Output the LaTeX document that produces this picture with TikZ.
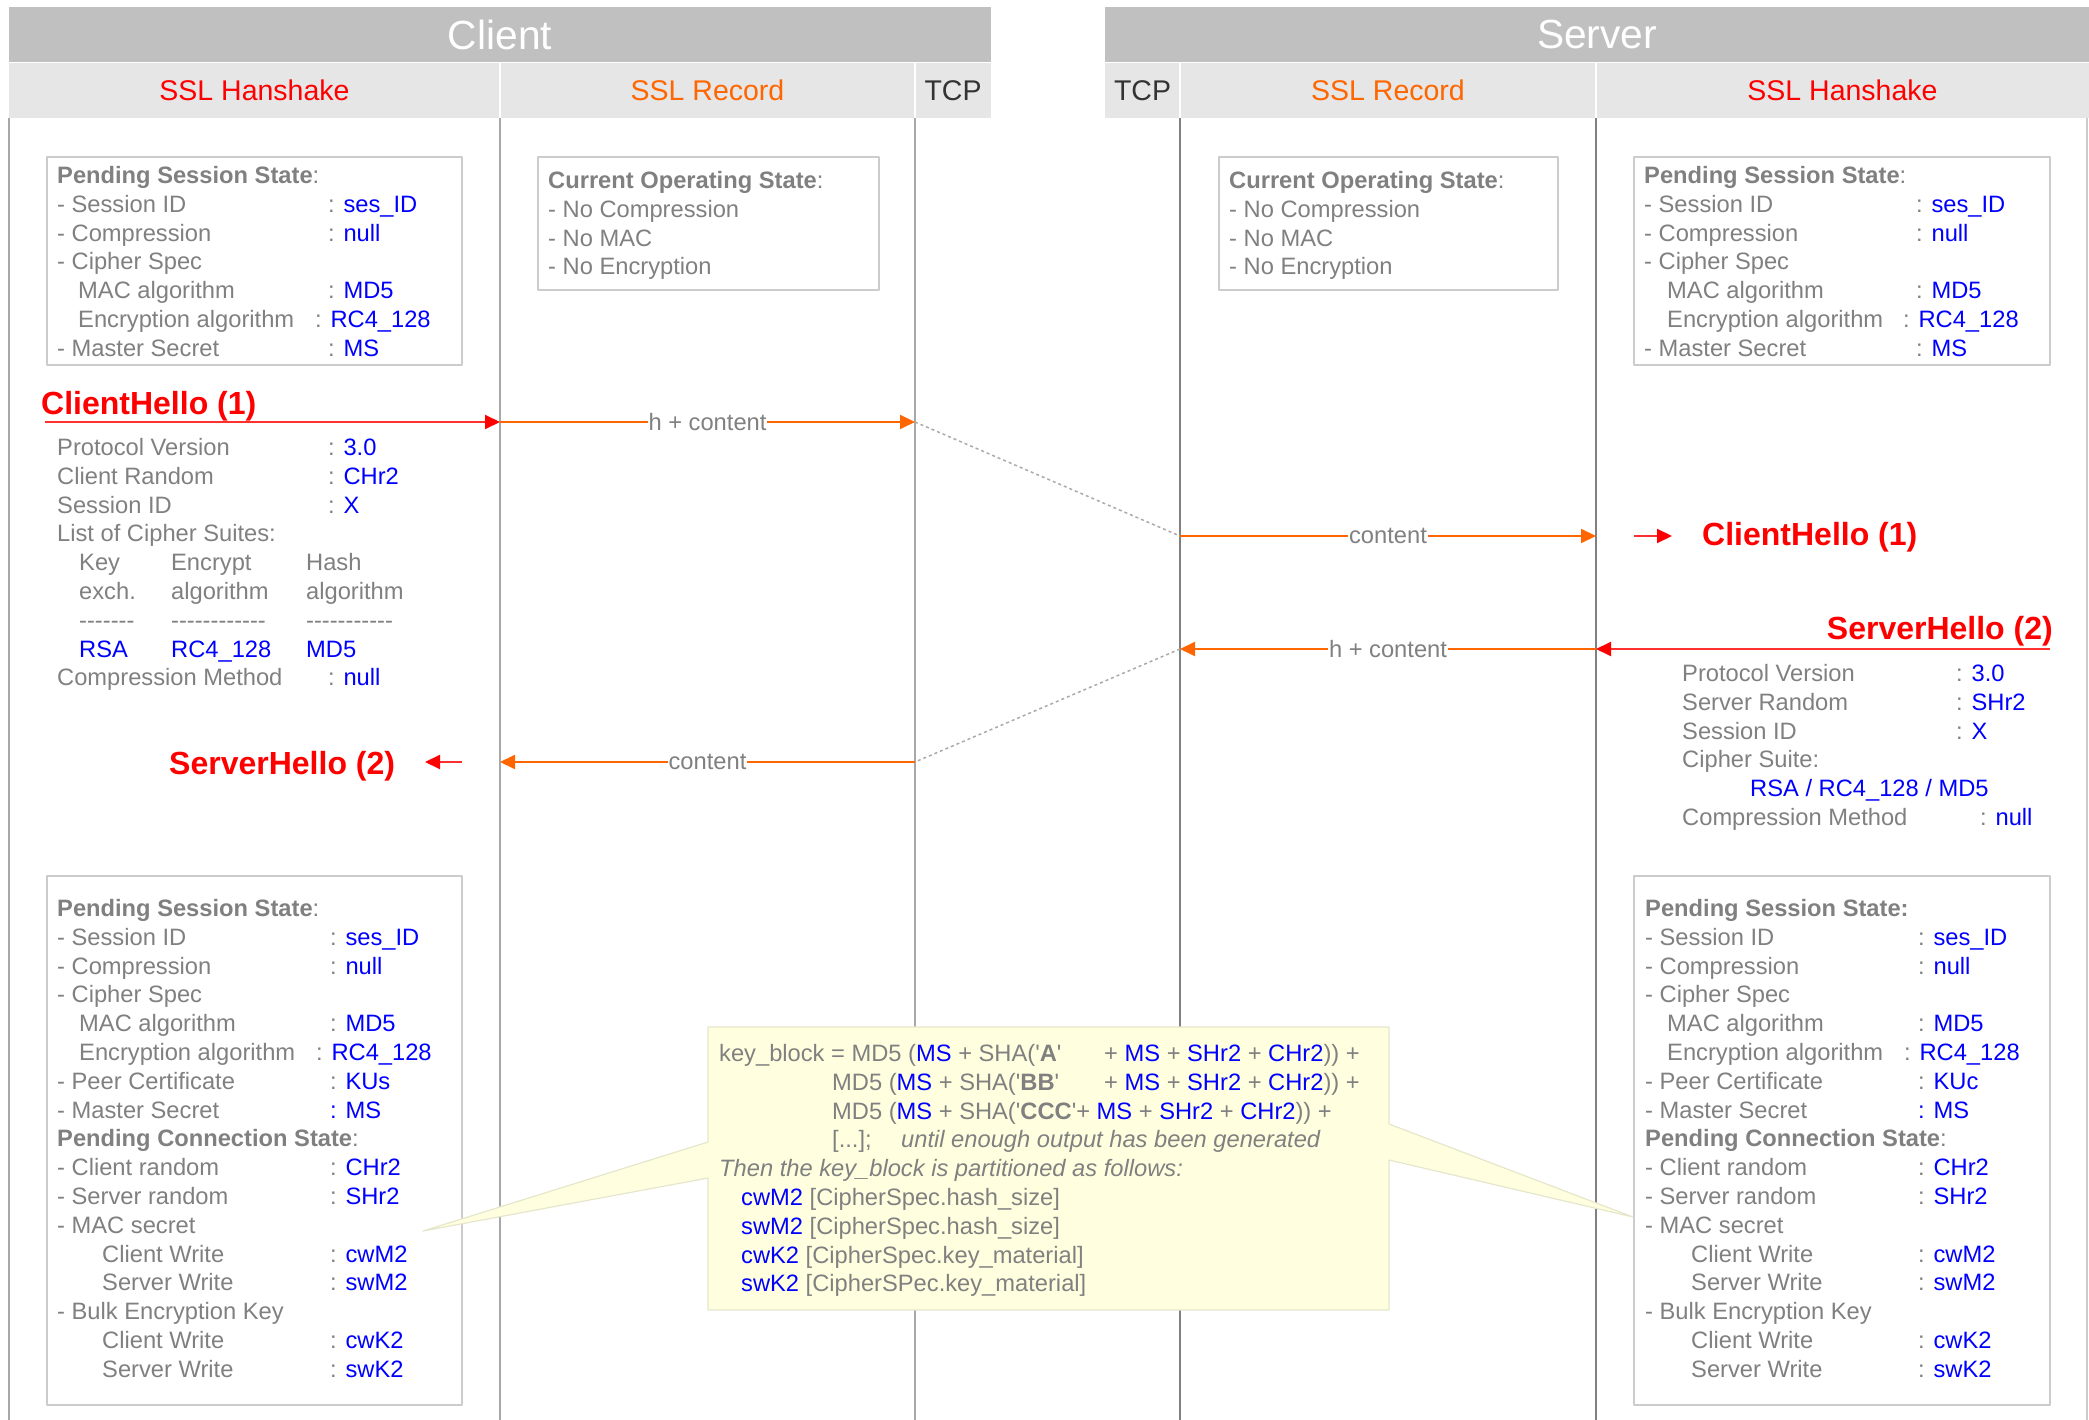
\documentclass[tikz,border=0pt]{standalone}
\usepackage{fontspec}
\setmainfont{Liberation Sans}
\usetikzlibrary{arrows.meta}

\definecolor{txtgray}{HTML}{808080}
\definecolor{valblue}{HTML}{0000FF}
\definecolor{hsred}{HTML}{FF0000}
\definecolor{hsline}{HTML}{FF3030}
\definecolor{recorange}{HTML}{FF6600}
\definecolor{hdrgray}{HTML}{C0C0C0}
\definecolor{subgray}{HTML}{E6E6E6}
\definecolor{tcpgray}{HTML}{333333}
\definecolor{lanecli}{HTML}{A8A8A8}
\definecolor{lanesrv}{HTML}{808080}
\definecolor{boxline}{HTML}{CCCCCC}
\definecolor{linkgray}{HTML}{AAAAAA}
\definecolor{notefill}{HTML}{FFFFE0}
\definecolor{noteline}{HTML}{E6E6CC}

\newcommand{\bval}[1]{\textcolor{valblue}{#1}}
\newcommand{\klab}[2]{\makebox[#1][l]{#2}}
\newcommand{\sq}{\textquotesingle}

\begin{document}
\begin{tikzpicture}[x=1pt, y=-1pt, line join=round,
    body/.style={font=\fontsize{23.7}{28.8}\selectfont, text=txtgray, align=left, inner sep=0pt, anchor=base west},
    title/.style={font=\fontsize{32}{38}\selectfont\bfseries, text=hsred, inner sep=0pt},
    head/.style={font=\fontsize{40.7}{48}\selectfont, text=white, inner sep=0pt},
    subhead/.style={font=\fontsize{28.5}{34}\selectfont, inner sep=0pt},
    statebox/.style={draw=boxline, line width=1.6pt, fill=white},
    hsarrow/.style={hsline, line width=2pt, -{Triangle[length=15pt,width=14pt,color=hsred]}},
    recarrow/.style={recorange, line width=2pt, -{Triangle[length=15pt,width=14pt]}},
    tcplink/.style={linkgray, line width=1.5pt, dash pattern=on 3pt off 3pt},
    flowlbl/.style={font=\fontsize{23.7}{28.8}\selectfont, text=txtgray, fill=white, inner xsep=1pt, inner ysep=0pt}]

    \useasboundingbox (0,0) rectangle (2089,1420);

    % Headers
    \fill[hdrgray] (9,7) rectangle (991,62);
    \fill[hdrgray] (1105,7) rectangle (2089,62);
    \fill[subgray] (9,63) rectangle (991,118);
    \fill[subgray] (1105,63) rectangle (2089,118);
    \foreach \x in {500,915,1180,1596} {
        \draw[white, line width=2pt] (\x,63) -- (\x,118);
    }
    \node[head] (client) at (500,34.5) {Client};
    \node[head] (server) at (1597,34.5) {Server};
    \node[subhead, text=hsred] (cliHs) at (254.5,90.5) {SSL Hanshake};
    \node[subhead, text=recorange] (cliRec) at (707.5,90.5) {SSL Record};
    \node[subhead, text=tcpgray] (cliTcp) at (953,90.5) {TCP};
    \node[subhead, text=tcpgray] (srvTcp) at (1142.5,90.5) {TCP};
    \node[subhead, text=recorange] (srvRec) at (1388,90.5) {SSL Record};
    \node[subhead, text=hsred] (srvHs) at (1842.5,90.5) {SSL Hanshake};

    % Lanes
    \foreach \x in {9,500,915} {
        \draw[lanecli, line width=1.4pt] (\x,118) -- (\x,1420);
    }
    \foreach \x in {1180,1596} {
        \draw[lanesrv, line width=1.4pt] (\x,118) -- (\x,1420);
    }
    \draw[boxline, line width=1.4pt] (2087,118) -- (2087,1420);

    % State boxes
    \draw[statebox] (47,157) rectangle (462,365);
    \draw[statebox] (538,157) rectangle (879,290);
    \draw[statebox] (1219,157) rectangle (1558,290);
    \draw[statebox] (1634,157) rectangle (2050,365);
    \draw[statebox] (47,876) rectangle (462,1405);
    \draw[statebox] (1634,876) rectangle (2050,1405);

    % (body nodes sit on the baseline of their last line)
    \node[body] (cliPss) at (57,356.3) {\textbf{Pending Session State}:\\
        \klab{271pt}{- Session ID}: \bval{ses\_ID}\\
        \klab{271pt}{- Compression}: \bval{null}\\
        - Cipher Spec\\
        \hspace*{21pt}\klab{250pt}{MAC algorithm}: \bval{MD5}\\
        \hspace*{21pt}\klab{237pt}{Encryption algorithm}: \bval{RC4\_128}\\
        \klab{271pt}{- Master Secret}: \bval{MS}};

    \node[body] (cliCos) at (548,274.9) {\textbf{Current Operating State}:\\
        - No Compression\\
        - No MAC\\
        - No Encryption};

    \node[body] (srvCos) at (1229,274.9) {\textbf{Current Operating State}:\\
        - No Compression\\
        - No MAC\\
        - No Encryption};

    \node[body] (srvPss) at (1644,356.3) {\textbf{Pending Session State}:\\
        \klab{272pt}{- Session ID}: \bval{ses\_ID}\\
        \klab{272pt}{- Compression}: \bval{null}\\
        - Cipher Spec\\
        \hspace*{23pt}\klab{249pt}{MAC algorithm}: \bval{MD5}\\
        \hspace*{23pt}\klab{236pt}{Encryption algorithm}: \bval{RC4\_128}\\
        \klab{272pt}{- Master Secret}: \bval{MS}};

    % ClientHello (1)
    \node[title, anchor=base west] (chCli) at (41,414.5) {ClientHello (1)};
    \node[title, anchor=base west] (chSrv) at (1702,545.5) {ClientHello (1)};

    \coordinate (chA) at (45,422);
    \coordinate (chB) at (500,422);
    \coordinate (chC) at (915,422);
    \coordinate (chD) at (1180,536);
    \coordinate (chE) at (1596,536);
    \coordinate (chF) at (1634,536);
    \coordinate (chG) at (1672,536);

    \draw[hsarrow] (chA) -- (chB);
    \draw[recarrow] (chB) -- node[flowlbl] (chLbl1) {h + content} (chC);
    \draw[tcplink] (chC) -- (chD);
    \draw[recarrow] (chD) -- node[flowlbl] (chLbl2) {content} (chE);
    \draw[hsarrow] (chF) -- (chG);

    \node[body] (chInfo) at (57,685.9) {\klab{271pt}{Protocol Version}: \bval{3.0}\\
        \klab{271pt}{Client Random}: \bval{CHr2}\\
        \klab{271pt}{Session ID}: \bval{X}\\
        List of Cipher Suites:\\
        \hspace*{22pt}\klab{92pt}{Key}\klab{135pt}{Encrypt}Hash\\
        \hspace*{22pt}\klab{92pt}{exch.}\klab{135pt}{algorithm}algorithm\\
        \hspace*{22pt}\klab{92pt}{-{}-{}-{}-{}-{}-{}-}\klab{135pt}{-{}-{}-{}-{}-{}-{}-{}-{}-{}-{}-{}-}-{}-{}-{}-{}-{}-{}-{}-{}-{}-{}-\\
        \hspace*{22pt}\klab{92pt}{\bval{RSA}}\klab{135pt}{\bval{RC4\_128}}\bval{MD5}\\
        \klab{271pt}{Compression Method}: \bval{null}};

    % ServerHello (2)
    \node[title, anchor=base east] (shSrv) at (2053,639.5) {ServerHello (2)};
    \node[title, anchor=base west] (shCli) at (169,774.5) {ServerHello (2)};

    \coordinate (shA) at (2050,649);
    \coordinate (shB) at (1596,649);
    \coordinate (shC) at (1180,649);
    \coordinate (shD) at (915,762);
    \coordinate (shE) at (500,762);
    \coordinate (shF) at (462,762);
    \coordinate (shG) at (425,762);

    \draw[hsarrow] (shA) -- (shB);
    \draw[recarrow] (shB) -- node[flowlbl] (shLbl1) {h + content} (shC);
    \draw[tcplink] (shC) -- (shD);
    \draw[recarrow] (shD) -- node[flowlbl] (shLbl2) {content} (shE);
    \draw[hsarrow] (shF) -- (shG);

    \node[body] (shInfo) at (1682,825.5) {\klab{274pt}{Protocol Version}: \bval{3.0}\\
        \klab{274pt}{Server Random}: \bval{SHr2}\\
        \klab{274pt}{Session ID}: \bval{X}\\
        Cipher Suite:\\
        \hspace*{68pt}\bval{RSA / RC4\_128 / MD5}\\
        \klab{298pt}{Compression Method}: \bval{null}};

    % Pending states after ServerHello
    \node[body] (cliPend) at (57,1377.3) {\textbf{Pending Session State}:\\
        \klab{273pt}{- Session ID}: \bval{ses\_ID}\\
        \klab{273pt}{- Compression}: \bval{null}\\
        - Cipher Spec\\
        \hspace*{22pt}\klab{251pt}{MAC algorithm}: \bval{MD5}\\
        \hspace*{22pt}\klab{237pt}{Encryption algorithm}: \bval{RC4\_128}\\
        \klab{273pt}{- Peer Certificate}: \bval{KUs}\\
        \klab{273pt}{- Master Secret}\bval{: MS}\\
        \textbf{Pending Connection State}:\\
        \klab{273pt}{- Client random}: \bval{CHr2}\\
        \klab{273pt}{- Server random}: \bval{SHr2}\\
        - MAC secret\\
        \hspace*{45pt}\klab{228pt}{Client Write}: \bval{cwM2}\\
        \hspace*{45pt}\klab{228pt}{Server Write}: \bval{swM2}\\
        - Bulk Encryption Key\\
        \hspace*{45pt}\klab{228pt}{Client Write}: \bval{cwK2}\\
        \hspace*{45pt}\klab{228pt}{Server Write}: \bval{swK2}};

    \node[body] (srvPend) at (1645,1377.3) {\textbf{Pending Session State:}\\
        \klab{273pt}{- Session ID}: \bval{ses\_ID}\\
        \klab{273pt}{- Compression}: \bval{null}\\
        - Cipher Spec\\
        \hspace*{22pt}\klab{251pt}{MAC algorithm}: \bval{MD5}\\
        \hspace*{22pt}\klab{237pt}{Encryption algorithm}: \bval{RC4\_128}\\
        \klab{273pt}{- Peer Certificate}: \bval{KUc}\\
        \klab{273pt}{- Master Secret}\bval{: MS}\\
        \textbf{Pending Connection State}:\\
        \klab{273pt}{- Client random}: \bval{CHr2}\\
        \klab{273pt}{- Server random}: \bval{SHr2}\\
        - MAC secret\\
        \hspace*{46pt}\klab{227pt}{Client Write}: \bval{cwM2}\\
        \hspace*{46pt}\klab{227pt}{Server Write}: \bval{swM2}\\
        - Bulk Encryption Key\\
        \hspace*{46pt}\klab{227pt}{Client Write}: \bval{cwK2}\\
        \hspace*{46pt}\klab{227pt}{Server Write}: \bval{swK2}};

    % key_block callout
    \draw[noteline, line width=1.2pt, fill=notefill] (708,1027) -- (1389,1027) -- (1389,1124) -- (1633,1217)
        -- (1389,1160) -- (1389,1310) -- (708,1310) -- (708,1178) -- (423,1231) -- (708,1142) -- cycle;

    \node[body] (keyBlock) at (719,1291.9) {\klab{385pt}{key\_block = MD5 (\bval{MS} + SHA(\sq\textbf{A}\sq}+ \bval{MS} + \bval{SHr2} + \bval{CHr2})) +\\
        \hspace*{113pt}\klab{272pt}{MD5 (\bval{MS} + SHA(\sq\textbf{BB}\sq}+ \bval{MS} + \bval{SHr2} + \bval{CHr2})) +\\
        \hspace*{113pt}MD5 (\bval{MS} + SHA(\sq\textbf{CCC}\sq+ \bval{MS} + \bval{SHr2} + \bval{CHr2})) +\\
        \hspace*{113pt}\klab{69pt}{[...];}\textit{until enough output has been generated}\\
        \textit{Then the key\_block is partitioned as follows:}\\
        \hspace*{22pt}\bval{cwM2} [CipherSpec.hash\_size]\\
        \hspace*{22pt}\bval{swM2} [CipherSpec.hash\_size]\\
        \hspace*{22pt}\bval{cwK2} [CipherSpec.key\_material]\\
        \hspace*{22pt}\bval{swK2} [CipherSPec.key\_material]};

\end{tikzpicture}
\end{document}
